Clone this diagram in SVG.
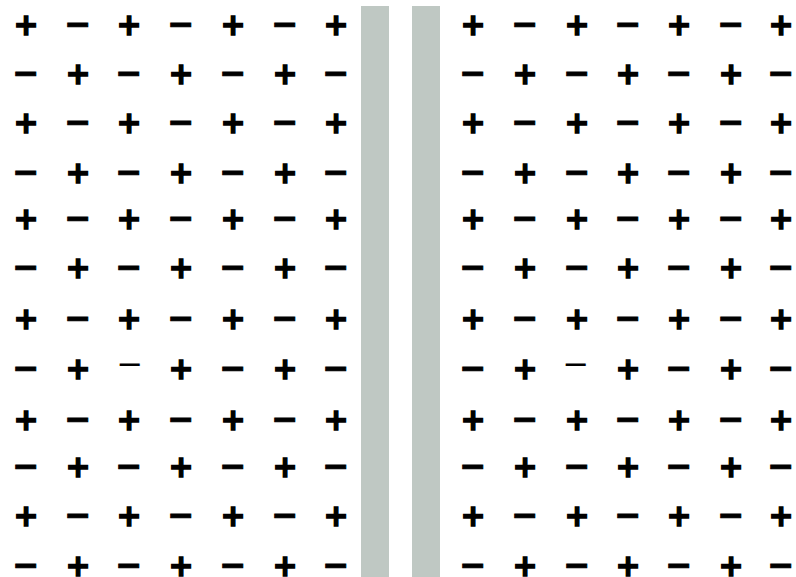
<svg xmlns="http://www.w3.org/2000/svg" width="796" height="577" viewBox="0 0 796 577">
<style>
.s{font-family:"DejaVu Sans",sans-serif;font-weight:bold;text-anchor:middle;fill:#000;stroke:#000;stroke-width:1}
.p{font-size:30px;stroke-width:1.4px}
.m{font-size:32px}
.t{font-family:"DejaVu Sans",sans-serif;font-weight:normal;text-anchor:middle;fill:#000;stroke:none;font-size:32px}
.bar{fill:#bfc8c3}
</style>
<rect width="796" height="577" fill="#fff"/>
<rect class="bar" x="361" y="6" width="28" height="571"/>
<rect class="bar" x="412" y="6" width="28" height="571"/>
<g id="left" class="s">
<text class="p" x="26" y="35">+</text><text class="m" x="78" y="35">−</text><text class="p" x="129" y="35">+</text><text class="m" x="181" y="35">−</text><text class="p" x="233" y="35">+</text><text class="m" x="285" y="35">−</text><text class="p" x="336" y="35">+</text>
<text class="m" x="26" y="84">−</text><text class="p" x="78" y="84">+</text><text class="m" x="129" y="84">−</text><text class="p" x="181" y="84">+</text><text class="m" x="233" y="84">−</text><text class="p" x="285" y="84">+</text><text class="m" x="336" y="84">−</text>
<text class="p" x="26" y="133">+</text><text class="m" x="78" y="133">−</text><text class="p" x="129" y="133">+</text><text class="m" x="181" y="133">−</text><text class="p" x="233" y="133">+</text><text class="m" x="285" y="133">−</text><text class="p" x="336" y="133">+</text>
<text class="m" x="26" y="183">−</text><text class="p" x="78" y="183">+</text><text class="m" x="129" y="183">−</text><text class="p" x="181" y="183">+</text><text class="m" x="233" y="183">−</text><text class="p" x="285" y="183">+</text><text class="m" x="336" y="183">−</text>
<text class="p" x="26" y="229">+</text><text class="m" x="78" y="229">−</text><text class="p" x="129" y="229">+</text><text class="m" x="181" y="229">−</text><text class="p" x="233" y="229">+</text><text class="m" x="285" y="229">−</text><text class="p" x="336" y="229">+</text>
<text class="m" x="26" y="278">−</text><text class="p" x="78" y="278">+</text><text class="m" x="129" y="278">−</text><text class="p" x="181" y="278">+</text><text class="m" x="233" y="278">−</text><text class="p" x="285" y="278">+</text><text class="m" x="336" y="278">−</text>
<text class="p" x="26" y="329">+</text><text class="m" x="78" y="329">−</text><text class="p" x="129" y="329">+</text><text class="m" x="181" y="329">−</text><text class="p" x="233" y="329">+</text><text class="m" x="285" y="329">−</text><text class="p" x="336" y="329">+</text>
<text class="m" x="26" y="379">−</text><text class="p" x="78" y="379">+</text><text class="t" x="130" y="375">−</text><text class="p" x="181" y="379">+</text><text class="m" x="233" y="379">−</text><text class="p" x="285" y="379">+</text><text class="m" x="336" y="379">−</text>
<text class="p" x="26" y="430">+</text><text class="m" x="78" y="430">−</text><text class="p" x="129" y="430">+</text><text class="m" x="181" y="430">−</text><text class="p" x="233" y="430">+</text><text class="m" x="285" y="430">−</text><text class="p" x="336" y="430">+</text>
<text class="m" x="26" y="477">−</text><text class="p" x="78" y="477">+</text><text class="m" x="129" y="477">−</text><text class="p" x="181" y="477">+</text><text class="m" x="233" y="477">−</text><text class="p" x="285" y="477">+</text><text class="m" x="336" y="477">−</text>
<text class="p" x="26" y="526">+</text><text class="m" x="78" y="526">−</text><text class="p" x="129" y="526">+</text><text class="m" x="181" y="526">−</text><text class="p" x="233" y="526">+</text><text class="m" x="285" y="526">−</text><text class="p" x="336" y="526">+</text>
<text class="m" x="26" y="576">−</text><text class="p" x="78" y="576">+</text><text class="m" x="129" y="576">−</text><text class="p" x="181" y="576">+</text><text class="m" x="233" y="576">−</text><text class="p" x="285" y="576">+</text><text class="m" x="336" y="576">−</text>
</g>
<g id="right" class="s">
<text class="p" x="473" y="35">+</text><text class="m" x="525" y="35">−</text><text class="p" x="577" y="35">+</text><text class="m" x="628" y="35">−</text><text class="p" x="679" y="35">+</text><text class="m" x="731" y="35">−</text><text class="p" x="781" y="35">+</text>
<text class="m" x="473" y="84">−</text><text class="p" x="525" y="84">+</text><text class="m" x="577" y="84">−</text><text class="p" x="628" y="84">+</text><text class="m" x="679" y="84">−</text><text class="p" x="731" y="84">+</text><text class="m" x="781" y="84">−</text>
<text class="p" x="473" y="133">+</text><text class="m" x="525" y="133">−</text><text class="p" x="577" y="133">+</text><text class="m" x="628" y="133">−</text><text class="p" x="679" y="133">+</text><text class="m" x="731" y="133">−</text><text class="p" x="781" y="133">+</text>
<text class="m" x="473" y="183">−</text><text class="p" x="525" y="183">+</text><text class="m" x="577" y="183">−</text><text class="p" x="628" y="183">+</text><text class="m" x="679" y="183">−</text><text class="p" x="731" y="183">+</text><text class="m" x="781" y="183">−</text>
<text class="p" x="473" y="229">+</text><text class="m" x="525" y="229">−</text><text class="p" x="577" y="229">+</text><text class="m" x="628" y="229">−</text><text class="p" x="679" y="229">+</text><text class="m" x="731" y="229">−</text><text class="p" x="781" y="229">+</text>
<text class="m" x="473" y="278">−</text><text class="p" x="525" y="278">+</text><text class="m" x="577" y="278">−</text><text class="p" x="628" y="278">+</text><text class="m" x="679" y="278">−</text><text class="p" x="731" y="278">+</text><text class="m" x="781" y="278">−</text>
<text class="p" x="473" y="329">+</text><text class="m" x="525" y="329">−</text><text class="p" x="577" y="329">+</text><text class="m" x="628" y="329">−</text><text class="p" x="679" y="329">+</text><text class="m" x="731" y="329">−</text><text class="p" x="781" y="329">+</text>
<text class="m" x="473" y="379">−</text><text class="p" x="525" y="379">+</text><text class="t" x="576" y="375">−</text><text class="p" x="628" y="379">+</text><text class="m" x="679" y="379">−</text><text class="p" x="731" y="379">+</text><text class="m" x="781" y="379">−</text>
<text class="p" x="473" y="430">+</text><text class="m" x="525" y="430">−</text><text class="p" x="577" y="430">+</text><text class="m" x="628" y="430">−</text><text class="p" x="679" y="430">+</text><text class="m" x="731" y="430">−</text><text class="p" x="781" y="430">+</text>
<text class="m" x="473" y="477">−</text><text class="p" x="525" y="477">+</text><text class="m" x="577" y="477">−</text><text class="p" x="628" y="477">+</text><text class="m" x="679" y="477">−</text><text class="p" x="731" y="477">+</text><text class="m" x="781" y="477">−</text>
<text class="p" x="473" y="526">+</text><text class="m" x="525" y="526">−</text><text class="p" x="577" y="526">+</text><text class="m" x="628" y="526">−</text><text class="p" x="679" y="526">+</text><text class="m" x="731" y="526">−</text><text class="p" x="781" y="526">+</text>
<text class="m" x="473" y="576">−</text><text class="p" x="525" y="576">+</text><text class="m" x="577" y="576">−</text><text class="p" x="628" y="576">+</text><text class="m" x="679" y="576">−</text><text class="p" x="731" y="576">+</text><text class="m" x="781" y="576">−</text>
</g>
</svg>
